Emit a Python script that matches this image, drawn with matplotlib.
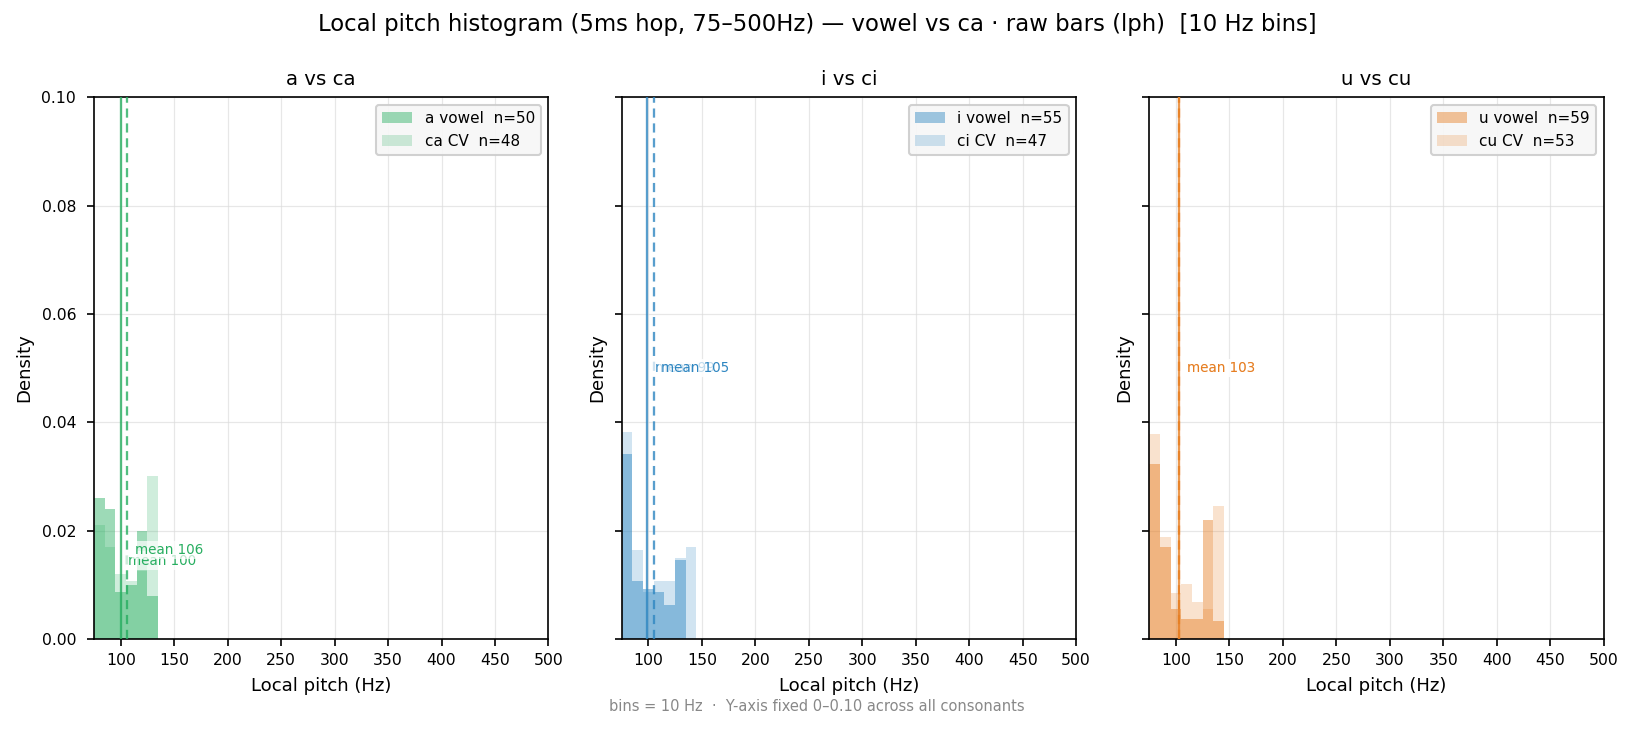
import numpy as np
import matplotlib
matplotlib.use("Agg")
import matplotlib.pyplot as plt
from matplotlib.patches import Patch

# ---------------- data ----------------
bin_left_edges = [75, 85, 95, 105, 115, 125, 135]
bin_width_hz = 10

panel_titles = ["a vs ca", "i vs ci", "u vs cu"]
vowel_labels = ["a vowel  n=50", "i vowel  n=55", "u vowel  n=59"]
cv_labels = ["ca CV  n=48", "ci CV  n=47", "cu CV  n=53"]

a_vowel = [0.026, 0.024, 0.0086, 0.010, 0.020, 0.008, 0.0]
ca_cv = [0.021, 0.017, 0.012, 0.0107, 0.0125, 0.030, 0.0]
i_vowel = [0.0342, 0.0107, 0.0092, 0.0086, 0.0063, 0.0146, 0.0]
ci_cv = [0.0382, 0.0164, 0.0086, 0.0107, 0.0107, 0.0149, 0.0169]
u_vowel = [0.0323, 0.0170, 0.0055, 0.0037, 0.0037, 0.022, 0.0033]
cu_cv = [0.0378, 0.0188, 0.0085, 0.0102, 0.0068, 0.0055, 0.0245]

vowel_means = [100, 99, 103]
cv_means = [106, 105, 103]

x_ticks = [100, 150, 200, 250, 300, 350, 400, 450, 500]
y_ticks = [0.00, 0.02, 0.04, 0.06, 0.08, 0.10]

# ---------------- style ----------------
colors = ["#27ae60", "#2e86c1", "#e67e22"]
vowel_alpha = 0.45
cv_alpha = 0.22
# label y-positions for the mean annotations (vowel, cv) per panel
label_y = [(0.0144, 0.0164), (0.050, 0.050), (0.050, 0.050)]

vowel_series = [a_vowel, i_vowel, u_vowel]
cv_series = [ca_cv, ci_cv, cu_cv]

DPI = 150
fig, axes = plt.subplots(1, 3, figsize=(1634 / DPI, 731 / DPI), dpi=DPI, sharey=True)
fig.subplots_adjust(left=0.0575, right=0.9815, top=0.867, bottom=0.126, wspace=0.161)

for i, ax in enumerate(axes):
    c = colors[i]
    ax.bar(bin_left_edges, vowel_series[i], width=bin_width_hz, align="edge",
           color=c, alpha=vowel_alpha, linewidth=0, zorder=2)
    ax.bar(bin_left_edges, cv_series[i], width=bin_width_hz, align="edge",
           color=c, alpha=cv_alpha, linewidth=0, zorder=2)
    ax.axvline(vowel_means[i], color=c, alpha=0.8, lw=1.1, ls="-", zorder=3)
    ax.axvline(cv_means[i], color=c, alpha=0.8, lw=1.1, ls=(0, (4, 2.5)), zorder=3)
    ax.text(vowel_means[i] + 7, label_y[i][0], f"mean {vowel_means[i]}", color=c,
            fontsize=6.5, va="center", ha="left", zorder=4,
            bbox=dict(facecolor="white", edgecolor="none", alpha=0.7, pad=1.2))
    ax.text(cv_means[i] + 7, label_y[i][1], f"mean {cv_means[i]}", color=c,
            fontsize=6.5, va="center", ha="left", zorder=4,
            bbox=dict(facecolor="white", edgecolor="none", alpha=0.7, pad=1.2))

    ax.set_xlim(75, 500)
    ax.set_ylim(0, 0.10)
    ax.set_xticks(x_ticks)
    ax.set_yticks(y_ticks)
    ax.tick_params(labelsize=7.5)
    ax.tick_params(axis="y", pad=5)
    ax.grid(True, color="#dddddd", alpha=0.7, lw=0.6, zorder=0)
    ax.set_axisbelow(True)
    ax.set_title(panel_titles[i], fontsize=9.5)
    ax.set_xlabel("Local pitch (Hz)", fontsize=8.7)
    ax.set_ylabel("Density", fontsize=8.7)
    ax.yaxis.set_tick_params(labelleft=(i == 0))

    handles = [Patch(facecolor=c, alpha=vowel_alpha, edgecolor="none"),
               Patch(facecolor=c, alpha=cv_alpha, edgecolor="none")]
    ax.legend(handles, [vowel_labels[i], cv_labels[i]], loc="upper right",
              fontsize=7.3, frameon=True, facecolor="#f7f7f7", edgecolor="#cccccc",
              framealpha=0.9)

fig.suptitle("Local pitch histogram (5ms hop, 75\u2013500Hz) \u2014 vowel vs ca \u00b7 raw bars (lph)  [10 Hz bins]",
             fontsize=10.9, y=0.967, va="center")
fig.text(0.5, 0.033, "bins = 10 Hz  \u00b7  Y-axis fixed 0\u20130.10 across all consonants",
         ha="center", va="center", fontsize=7, color="#888888")

fig.savefig("out.png", dpi=DPI)
